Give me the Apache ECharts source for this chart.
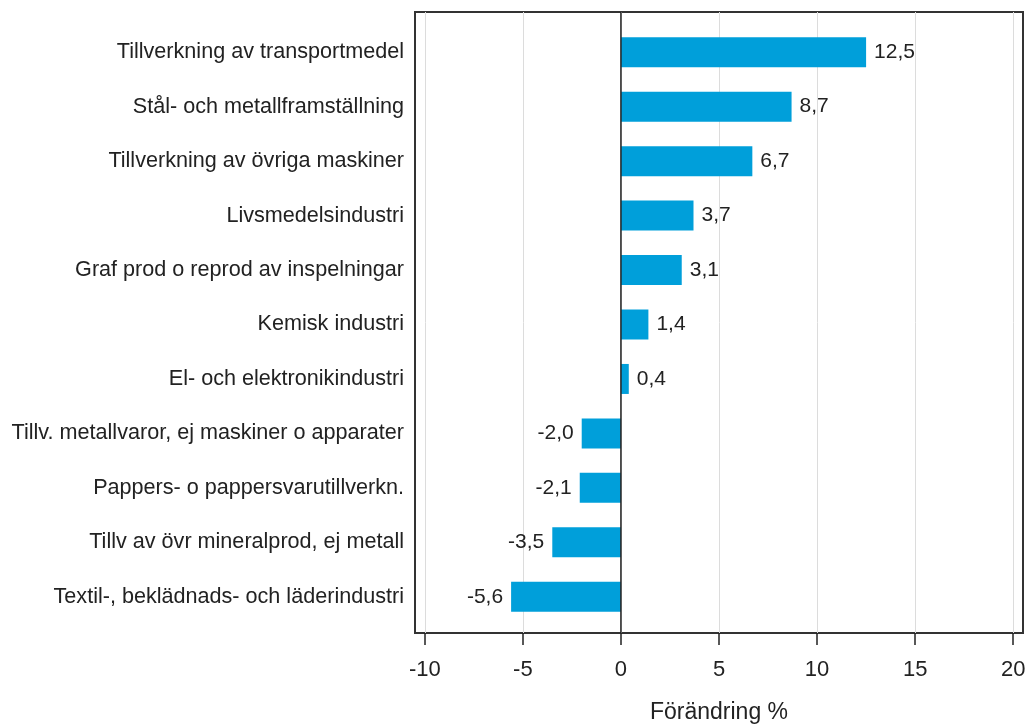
<!DOCTYPE html>
<html>
<head>
<meta charset="utf-8">
<script src="https://cdn.jsdelivr.net/npm/echarts@6/dist/echarts.min.js"></script>
<style>
    html, body { margin: 0; padding: 0; background: #fff; }
    #chart { width: 1027px; height: 724px; }
</style>
</head>
<body>
<div id="chart"></div>
<script>
// branscher, uppifrån och ned
const categories = [
    'Tillverkning av transportmedel',
    'Stål- och metallframställning',
    'Tillverkning av övriga maskiner',
    'Livsmedelsindustri',
    'Graf prod o reprod av inspelningar',
    'Kemisk industri',
    'El- och elektronikindustri',
    'Tillv. metallvaror, ej maskiner o apparater',
    'Pappers- o pappersvarutillverkn.',
    'Tillv av övr mineralprod, ej metall',
    'Textil-, beklädnads- och läderindustri'
];
const values = [12.5, 8.7, 6.7, 3.7, 3.1, 1.4, 0.4, -2.0, -2.1, -3.5, -5.6];
const xTicks = [-10, -5, 0, 5, 10, 15, 20];
const zeroLine = [[0, 0], [0, 1]];

const chart = echarts.init(document.getElementById('chart'));
const font = 'Liberation Sans, Arial, sans-serif';
const fmt = (v) => String(v.toFixed(1)).replace('.', ',');

let option = {
    animation: false,
    textStyle: { fontFamily: font },
    grid: [
        // ram
        {
            left: 415, right: 4, top: 12, bottom: 91,
            show: true, borderColor: '#333', borderWidth: 2,
            containLabel: false, outerBoundsMode: 'none'
        },
        // staplar
        { left: 415, right: 4, top: 25, bottom: 100, containLabel: false, outerBoundsMode: 'none' }
    ],
    xAxis: [
        {
            gridIndex: 0,
            type: 'value',
            min: -10.5,
            max: 20.5,
            name: 'Förändring %',
            nameLocation: 'middle',
            nameGap: 68,
            nameTextStyle: { fontSize: 23, color: '#222', fontFamily: font },
            axisLine: { show: false },
            axisTick: {
                show: true,
                length: 12,
                customValues: xTicks,
                lineStyle: { color: '#222', width: 1.5 }
            },
            axisLabel: {
                customValues: xTicks,
                fontSize: 22,
                color: '#222',
                margin: 26
            },
            splitLine: { show: true, lineStyle: { color: '#dcdcdc', width: 1 } }
        },
        {
            gridIndex: 1,
            type: 'value',
            min: -10.5,
            max: 20.5,
            show: false,
            splitLine: { show: false }
        }
    ],
    yAxis: [
        { gridIndex: 0, type: 'value', min: 0, max: 1, show: false, splitLine: { show: false } },
        {
            gridIndex: 1,
            type: 'category',
            inverse: true,
            data: categories,
            axisLine: { show: false },
            axisTick: { show: false },
            axisLabel: { fontSize: 21.6, color: '#222', margin: 11 },
            splitLine: { show: false }
        }
    ],
    series: [
        {
            type: 'line',
            xAxisIndex: 0,
            yAxisIndex: 0,
            data: zeroLine,
            symbol: 'none',
            lineStyle: { color: '#222', width: 1.5 },
            silent: true
        },
        {
            type: 'bar',
            xAxisIndex: 1,
            yAxisIndex: 1,
            data: values.map((v) => ({
                value: v,
                // negativa värden får etiketten till vänster
                label: { position: v < 0 ? 'left' : 'right' }
            })),
            barWidth: 30,
            itemStyle: { color: '#009fda' },
            label: {
                show: true,
                distance: 8,
                fontSize: 21,
                color: '#222',
                formatter: (p) => fmt(p.value)
            }
        }
    ]
};

chart.setOption(option);
window.addEventListener('resize', () => {
    chart.resize();
});
</script>
</body>
</html>
